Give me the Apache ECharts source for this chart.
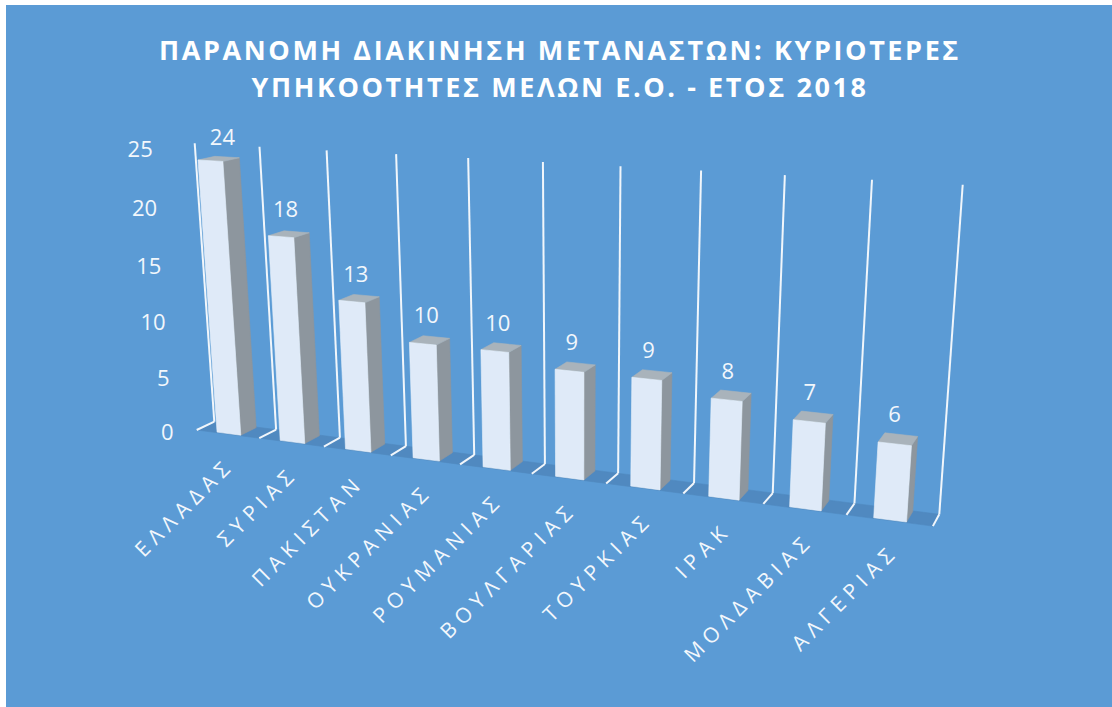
<!DOCTYPE html>
<html>
<head>
<meta charset="utf-8">
<title>chart</title>
<script src="https://cdn.jsdelivr.net/npm/echarts@6/dist/echarts.min.js"></script>
<style>
html, body { margin: 0; padding: 0; background: #fff; }
#chart { width: 1112px; height: 707px; }
/* the original has wide tracking on the title and category names */
#chart text[style*="27px"] { letter-spacing: 2.6px; }
#chart text[style*="21px"] { letter-spacing: 6px; }
</style>
</head>
<body>
<div id="chart"></div>
<script>
var categories = ['ΕΛΛΑΔΑΣ', 'ΣΥΡΙΑΣ', 'ΠΑΚΙΣΤΑΝ', 'ΟΥΚΡΑΝΙΑΣ', 'ΡΟΥΜΑΝΙΑΣ', 'ΒΟΥΛΓΑΡΙΑΣ', 'ΤΟΥΡΚΙΑΣ', 'ΙΡΑΚ', 'ΜΟΛΔΑΒΙΑΣ', 'ΑΛΓΕΡΙΑΣ'];
var values = [24, 18, 13, 10, 10, 9, 9, 8, 7, 6];
var ticks = [0, 5, 10, 15, 20, 25];
var titleText = 'ΠΑΡΑΝΟΜΗ ΔΙΑΚΙΝΗΣΗ ΜΕΤΑΝΑΣΤΩΝ: ΚΥΡΙΟΤΕΡΕΣ\nΥΠΗΚΟΟΤΗΤΕΣ ΜΕΛΩΝ Ε.Ο. - ΕΤΟΣ 2018';

var FONT = '"Open Sans", "Noto Sans", sans-serif';

// camera: back wall corners and front floor corners of the 3d box, seen on the page
var wall = [[214.3, 421.7], [939.3, 514.3], [962.7, 184.7], [194.7, 143.3]];
var front = [[196.7, 430], [936, 525.7]];

function makeCamera() {
    var dx1 = wall[1][0] - wall[2][0], dy1 = wall[1][1] - wall[2][1];
    var dx2 = wall[3][0] - wall[2][0], dy2 = wall[3][1] - wall[2][1];
    var sx = wall[0][0] - wall[1][0] + wall[2][0] - wall[3][0];
    var sy = wall[0][1] - wall[1][1] + wall[2][1] - wall[3][1];
    var den = dx1 * dy2 - dx2 * dy1;
    var g = (sx * dy2 - dx2 * sy) / den;
    var h = (dx1 * sy - sx * dy1) / den;
    var a = wall[1][0] - wall[0][0] + g * wall[1][0];
    var b = wall[3][0] - wall[0][0] + h * wall[3][0];
    var c = wall[0][0];
    var d = wall[1][1] - wall[0][1] + g * wall[1][1];
    var e = wall[3][1] - wall[0][1] + h * wall[3][1];
    var f = wall[0][1];
    // depth column, from the two front corners
    var kwx = (a + front[0][0] - front[1][0] * (g + 1)) / (front[1][0] - front[0][0]);
    var kwy = (d + front[0][1] - front[1][1] * (g + 1)) / (front[1][1] - front[0][1]);
    var kw = (kwx + kwy) / 2;
    var kx = front[0][0] * (1 + kw) - c;
    var ky = front[0][1] * (1 + kw) - f;
    return function (s, t, z) {
        var w = g * s + h * t + kw * z + 1;
        return [(a * s + b * t + kx * z + c) / w, (d * s + e * t + ky * z + f) / w];
    };
}
var camera = makeCamera();

// grid pixel -> 3d box -> page
function project(params, px, py, z) {
    var g = params.coordSys;
    return camera((px - g.x) / g.width, (g.y + g.height - py) / g.height, z);
}

function poly(points, fill, stroke) {
    return {
        type: 'polygon',
        shape: { points: points },
        style: { fill: fill, stroke: stroke || fill, lineWidth: 0.6 }
    };
}

function line(a, b) {
    return {
        type: 'line',
        shape: { x1: a[0], y1: a[1], x2: b[0], y2: b[1] },
        style: { stroke: '#f1f6fb', lineWidth: 2 }
    };
}

function label(text, pos, size, align, rotation) {
    return {
        type: 'text',
        x: pos[0],
        y: pos[1],
        rotation: rotation || 0,
        style: {
            text: text,
            fill: '#f2f7fc',
            font: size + 'px ' + FONT,
            align: align,
            verticalAlign: 'middle'
        }
    };
}

function renderFloor(params, api) {
    var band = api.size([1, 0])[0];
    var left = api.coord([0, 0]);
    var right = api.coord([categories.length - 1, 0]);
    var x0 = left[0] - band / 2, x1 = right[0] + band / 2;
    return poly([
        project(params, x0, left[1], 0),
        project(params, x1, left[1], 0),
        project(params, x1, left[1], 1),
        project(params, x0, left[1], 1)
    ], '#5089c0');
}

// one wall line and floor line per category boundary
function renderBoundary(params, api) {
    var band = api.size([1, 0])[0];
    var i = api.value(0);
    var base = api.coord([Math.min(i, categories.length - 1), 0]);
    var top = api.coord([Math.min(i, categories.length - 1), ticks[ticks.length - 1]]);
    var x = base[0] + (i < categories.length ? -band / 2 : band / 2);
    return {
        type: 'group',
        children: [
            line(project(params, x, top[1], 0), project(params, x, base[1], 0)),
            line(project(params, x, base[1], 0), project(params, x, base[1], 1))
        ]
    };
}

function renderBar(params, api) {
    var band = api.size([1, 0])[0];
    var i = api.value(0);
    var topPt = api.coord([i, api.value(1)]);
    var basePt = api.coord([i, 0]);
    var half = band * 0.19;
    var x0 = topPt[0] - half + band * 0.005, x1 = topPt[0] + half + band * 0.005;
    var zf = 0.95, zb = 0.05;

    var ftl = project(params, x0, topPt[1], zf);
    var ftr = project(params, x1, topPt[1], zf);
    var fbl = project(params, x0, basePt[1], zf);
    var fbr = project(params, x1, basePt[1], zf);
    var btl = project(params, x0, topPt[1], zb);
    var btr = project(params, x1, topPt[1], zb);
    var bbr = project(params, x1, basePt[1], zb);

    var anchor = project(params, topPt[0], topPt[1], 0.5);
    // first label sits a bit further right in the original
    var nudge = i === 0 ? [7, 3] : [0, 0];
    return {
        type: 'group',
        children: [
            poly([ftr, btr, bbr, fbr], '#8d969e'),
            poly([ftl, btl, btr, ftr], '#a9b3bb'),
            poly([ftl, ftr, fbr, fbl], '#dfeaf8', '#e9f1fa'),
            label(String(api.value(1)), [anchor[0] - 3 + nudge[0], anchor[1] - 26 + nudge[1]], 22, 'center')
        ]
    };
}

function renderTick(params, api) {
    var p = api.coord([0, api.value(1)]);
    var band = api.size([1, 0])[0];
    var pos = project(params, p[0] - band / 2, p[1], 1);
    return label(String(api.value(1)), [pos[0] - 23, pos[1] + 1], 22, 'right');
}

function renderCategory(params, api) {
    var p = api.coord([api.value(0), 0]);
    var pos = project(params, p[0], p[1], 1);
    return label(categories[api.value(0)], [pos[0] + 2 + api.value(0) * 0.3, pos[1] + 27], 21, 'right', Math.PI / 4);
}

var boundaries = [];
for (var b = 0; b <= categories.length; b++) boundaries.push([b]);

var chart = echarts.init(document.getElementById('chart'), null, { renderer: 'svg' });
chart.setOption({
    animation: false,
    backgroundColor: '#ffffff',
    graphic: [{
        type: 'rect',
        z: -10,
        shape: { x: 6, y: 5, width: 1106, height: 702 },
        style: { fill: '#5b9bd5' }
    }],
    title: {
        text: titleText,
        left: 555,
        top: 26,
        textAlign: 'center',
        textStyle: {
            color: '#ffffff',
            fontFamily: FONT,
            fontWeight: 'bold',
            fontSize: 27,
            lineHeight: 37
        }
    },
    grid: { left: 0, right: 0, top: 0, bottom: 0 },
    xAxis: { type: 'category', data: categories, show: false },
    yAxis: { type: 'value', min: 0, max: 25, interval: 5, show: false },
    series: [
        { type: 'custom', silent: true, clip: false, z: 1, renderItem: renderFloor, data: [[0, 0]] },
        { type: 'custom', silent: true, clip: false, z: 2, renderItem: renderBoundary, data: boundaries },
        { type: 'custom', silent: true, clip: false, z: 3, renderItem: renderBar,
          data: values.map(function (v, i) { return [i, v]; }) },
        { type: 'custom', silent: true, clip: false, z: 4, renderItem: renderTick,
          data: ticks.map(function (t) { return [0, t]; }) },
        { type: 'custom', silent: true, clip: false, z: 4, renderItem: renderCategory,
          data: categories.map(function (c, i) { return [i, 0]; }) }
    ]
});
</script>
</body>
</html>
